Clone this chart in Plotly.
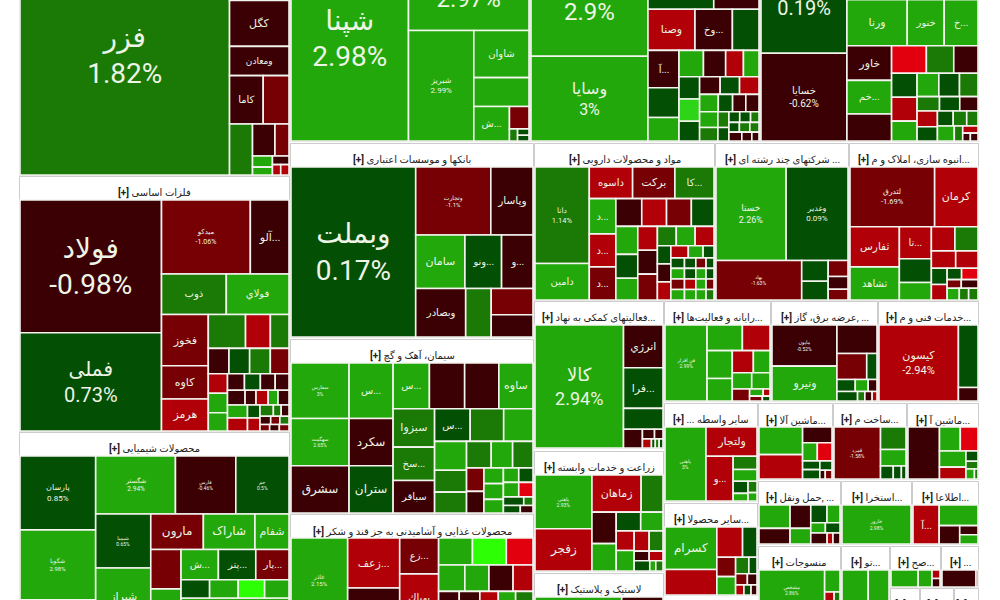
import json
import plotly.graph_objects as go

def nest(s):
    """Nesting of the cells of a sector: 1 takes the next cell; levels alternate row / column.
    Closing brackets at the end of the string may be left out."""
    return json.loads(s + "]" * (s.count("[") - s.count("]")))

# --- values: cell names, relative areas, % change ---
mines_title = "[+] استخراج کانه های فلزی"
mines_names = ["فزر","","كگل","ومعادن","كاما","","","","","","","","",""]
mines_areas = [46113,3534,2508,1600,1500,1150,1078,660,412,205,145,132,79,79]
mines_pcts  = [1.82,-0.7,-0.8,-0.7,-0.9,-1.5,1.5,-0.8,-1.4,2.2,2.2,-0.5,-2.5,-2.5]
mines_tree  = nest("[1,[1,1,1,[1,1],[1,[[1,1],[[1,1],[1,[1,1")

metals_title = "[+] فلزات اساسی"
metals_names = ["فولاد","فملی","میدکو","آلو...","ذوب","فولاي","فخوز","کاوه","هرمز"] + [""] * 32
metals_areas = [17733,13131,6205,2700,2480,2400,2265,1463,1416,1190,793,595,496,496,496,448,354,354,330,264,248,231,215,245,153,169,138,153,245,245,153,153,142,83,83,83,71,71,59,59,59]
metals_pcts  = [-0.98,0.73,-1.06,-0.7,1.6,2.3,-1.5,-1.6,-2.4,1.5,-2.5,1.4,-0.7,0.5,1.5,-1.5,-2.3,2.3,2.2,-0.6,0.5,-0.7,-0.8,-0.7,-0.9,-2.1,2.4,-0.7,2.2,-2.2,0.6,-2.2,1.4,1.4,-0.7,-0.8,-1.8,1.5,-1.6,-0.8,-1.8]
metals_tree  = nest("[[1,1],[[1,1],[1,1],[[1,1,1],[[1,1,1],[1,1,1,1],[[1,1,1],[[1,1,1,1],[1,1,1,1,1],[[1,1],[1,1],[[1,1,1],[1,1,1],[1,1,1")

chem_title = "[+] محصولات شیمیایی"
chem_names = ["پارسان","شگویا","","شگستر","فارس","جم","شیمیا","شیراز","مارون","شاراک","شفام","","","ش...","پتر...","پار...","","","","",""]
chem_areas = [5183,4900,1775,4290,3245,2860,2756,2912,1734,1700,1122,1102,1015,1044,1044,928,486,486,450,414,2700]
chem_pcts  = [0.85,2.98,2.3,2.94,-0.46,0.5,0.65,2.5,-1.6,2.4,2.3,-1.5,2.4,2.3,0.6,-1.4,0.5,2.3,4.5,2.3,2.3]
chem_tree  = nest("[[1,1,1],[[1,1,1],[[1,1],[[1,1,1],[[1,1],[[1,1,1],[1,1,1,1],1")

oil_title = "[+] فرآورده های نفتی"
oil_names = ["شپنا","شبندر","شبریز","شاوان","","ش...","","","",""]
oil_areas = [22000,10400,6588,2376,1458,1122,399,90,66,60]
oil_pcts  = [2.98,2.97,2.99,2.5,2.4,2.3,-1.7,1.5,0.5,0.5]
oil_tree  = nest("[1,[1,[1,[1,1,[1,[1,[1,[1,1")

banks_title = "[+] بانکها و موسسات اعتباری"
banks_names = ["وبملت","وتجارت","وپاسار","سامان","ونو...","و...","وبصادر","","",""]
banks_areas = [19700,4745,2665,2444,1820,1560,2256,1152,1025,861]
banks_pcts  = [0.17,-1.1,-0.8,2.4,0.5,-0.7,-0.9,1.5,-1.6,-0.6]
banks_tree  = nest("[1,[[1,1],[1,1,1],[1,1,[1,1")

cement_title = "[+] سیمان، آهک و گچ"
cement_names = ["سفارس","سهگمت","سشرق","س...","سکرد","ستران","س...","","","ساوه","سبزوا","سخ...","سباقر","س..."] + [""] * 21
cement_areas = [2835,2415,2415,2150,1832,1832,1462,1419,1376,1376,1400,1221,1184,1020,960,840,812,616,588,575,500,475,360,330,270,270,234,196,182,196,182,154,70,112,84]
cement_pcts  = [3,2.65,-0.8,2.4,-0.7,0.5,2.3,-0.6,-0.7,2.2,1.5,1.4,-0.8,0.4,1.5,2.2,2.3,1.4,1.5,1.4,2.3,1.5,-1.6,-0.7,2.3,2.2,2.3,2.3,0.5,2.3,-3,0.5,1.5,0.5,-0.7]
cement_tree  = nest("[[1,1,1],[1,1,1],[[1,1,1,1],[[1,1,1],[[1,1,1],[[1,1,1],[[1,1,1],[[1,1],[1,1,1],[[1,1],[1,1],[1,1],[1,1")

food_title = "[+] محصولات غذایی و آشامیدنی به جز قند و شکر"
food_names = ["غاذر","زعف...","","زع...","بهپاك","","","","","","","","","","","",""]
food_areas = [4300,2350,1598,1260,1692,825,825,650,625,575,575,475,570,570,510,480,480]
food_pcts  = [2.15,-2.4,-0.7,-1.6,-2.4,2.3,4.5,-3.2,2.3,2.3,-0.8,-2.2,-0.7,-0.7,-2.2,2.4,1.5]
food_tree  = nest("[1,[1,1],[1,1],[[1,1,1],[1,1,1,1],[1,1,1,1,1")

auto_title = "[+] خودرو و ساخت قطعات"
auto_names = ["خپارس","وسایا","","","وصنا","وخ...","","آ..."] + [""] * 29
auto_areas = [11050,7780,3780,2600,1520,1210,860,910,728,572,506,460,368,322,360,360,320,285,270,270,255,195,180,180,225,195,135,117,90,90,70,80,80,70,90,70,50]
auto_pcts  = [2.9,3,0.5,-0.7,-2.4,-0.8,0.5,-0.8,0.5,2.3,2.3,-0.7,-2.3,2.2,0.5,3.5,0.5,-0.7,0.5,-2.4,2.3,0.5,-0.8,-0.7,2.3,1.5,1.5,0.5,0.5,0.5,1.5,0.5,1.5,1.5,-0.7,-0.7,-0.8]
auto_tree  = nest("[[1,1],[[1,1],[1,1,1],[[1,1,1],[[1,1,1,1],[[1,1,1],[[1,1,1],[1,1,1,1],[[1,1],[1,1],[[1,1,1],[1,1,1],[1,1,1")

car_parts_title = "[+] خودرو"
car_parts_names = ["خودرو","خسایا","","ورنا","خنور","خ...","خاور","خم..."] + [""] * 23
car_parts_areas = [8340,6234,6900,2300,1410,1290,1280,1240,1000,792,624,552,504,504,420,420,399,357,266,240,216,266,240,196,168,140,210,105,90,50,50]
car_parts_pcts  = [0.19,-0.62,2.3,2.4,2.3,2.2,-0.8,2.3,-0.7,-3.3,1.5,-0.7,0.5,-2.3,2.3,2.3,0.5,1.5,1.5,0.5,-0.7,-2.3,0.5,0.5,1.5,1.5,2.3,1.5,-2.2,-0.7,-0.7]
car_parts_tree  = nest("[[1,1],[1,[1,1,1],[[1,1,1],[[1,1,1],[[1,1,1],[[1,1,1],[1,1,1],[[1,1],[[1,1,1],[1,1,[1,[1,1")

pharma_title = "[+] مواد و محصولات دارویی"
pharma_names = ["دانا","دامین","داسوه","برکت","کا...","د...","د...","د..."] + [""] * 35
pharma_areas = [4380,1660,1148,1120,1036,782,736,736,600,575,575,525,513,437,399,391,391,425,306,306,306,204,204,204,176,150,110,120,100,90,70,120,100,90,70,120,100,90,70,120,100,90,70]
pharma_pcts  = [1.14,2.3,-2.3,-1.6,1.5,2.3,-2.4,-1.6,-0.7,-2.4,-1.6,0.5,2.3,0.5,2.3,-2.2,-0.7,-1.5,1.5,2.4,-2.3,0.5,-0.7,-2.2,-2.2,2.3,0.5,0.5,0.5,-1.7,0.5,2.2,0.5,2.2,0.5,-1.6,-2.2,2.3,-1.6,2.3,2.3,2.2,1.5]
pharma_tree  = nest("[[1,1],[[1,1,1],[[1,1,1],[[1,1,1,1],[[1,1,1],[1,1,1],[[1,1,1],[[1,1,1],[[1,1,1],[1,1,1,1],[1,1,1,1],[1,1,1,1],[1,1,1,1")

multi_title = "[+] شرکتهای چند رشته ای ..."
multi_names = ["خستا","وغدیر","بهاد","","","","",""]
multi_areas = [6188,5460,3200,520,468,300,240,200]
multi_pcts  = [2.26,0.09,-1.63,0.5,0.5,-1.6,-0.7,-1.6]
multi_tree  = nest("[[[1,1],[1,[1,1],[1,1,1")

realty_title = "[+] انبوه سازی، املاک و م..."
realty_names = ["لتدرق","کرمان","ثفارس","ثشاهد","تا..."] + [""] * 15
realty_areas = [4592,2352,1800,1485,930,690,510,516,506,384,352,234,221,150,170,110,130,130,100,100]
realty_pcts  = [-1.69,-2.3,-2.4,2.3,-2.2,0.5,2.3,-2.3,1.5,-2.3,-2.2,0.5,-2.3,0.5,-3.2,-1.6,-0.8,2.3,1.5,1.5]
realty_tree  = nest("[[[1,1],[[1,1],[1,1,1],[[1,1],[1,1],[[1,1],[[1,1],[1,1],[1,1,1")

support_title = "[+] فعالیتهای کمکی به نهاد..."
support_names = ["کالا","انرژي","فرا...","","","","","","","",""]
support_areas = [9300,1443,1369,703,304,100,70,70,30,30,30]
support_pcts  = [2.94,-0.8,0.5,0.5,-0.7,-0.7,-0.6,-2.3,0.5,1.5,0.5]
support_tree  = nest("[1,[1,1,1,[1,[[1,1],[1,1,1,1")

farm_title = "[+] زراعت و خدمات وابسته"
farm_names = ["پاهنی","زفجر","زماهان"] + [""] * 14
farm_areas = [2490,1955,1485,660,620,540,374,340,285,300,247,228,117,108,130,50,60]
farm_pcts  = [2.93,-2.2,-2.4,1.5,-0.7,2.2,0.5,2.3,-2.3,2.3,-2.2,1.5,-0.7,-2.5,0.5,2.2,1.5]
farm_tree  = nest("[[1,1],[[1,1],[[1,1],[[1,1],[[1,1],[[1,1],[1,1],[1,1,1")

rubber_title = "[+] لاستیک و پلاستیک"
rubber_names = ["",""]
rubber_areas = [3612,1720]
rubber_pcts  = [2.3,-0.7]
rubber_tree  = nest("[1,1")

software_title = "[+] رایانه و فعالیت‌ها..."
software_names = ["فن افزار"] + [""] * 13
software_areas = [2600,736,575,572,462,380,300,255,240,170,80,40,50,30]
software_pcts  = [2.99,2.3,-2.5,2.3,2.2,-2.2,2.2,2.3,2.2,-1.8,2.2,-2.2,-1.5,0.5]
software_tree  = nest("[1,[[1,1],[[1,1],[[1,1],[1,1],[1,[[1,1],[1,1")

broker_title = "[+] ... سایر واسطه"
broker_names = ["پاهنی","ولتجار","و...","","","","","",""]
broker_areas = [2683,1316,1075,280,250,160,100,90,66]
broker_pcts  = [3,-2.3,-2.2,1.5,2.2,0.5,2.2,1.5,2.2]
broker_tree  = nest("[1,[1,[1,[1,1,[[1,1],[1,1")

products_title = "[+] سایر محصولا..."
products_names = ["کسرام"] + [""] * 12
products_areas = [1840,1104,650,364,304,288,182,112,110,90,70,60,50]
products_pcts  = [2.3,-2.4,-2.3,0.5,-1.6,2.2,1.5,0.5,-1.5,-0.7,-2.2,0.5,-0.7]
products_tree  = nest("[[1,1],[[1,1],[[1,1],[[1,1],[1,1],[1,1,1")

power_title = "[+] عرضه برق، گاز, ..."
power_names = ["ماپون","ونیرو"] + [""] * 10
power_areas = [2301,1947,984,667,230,187,132,90,170,60,60,40]
power_pcts  = [-0.52,2.3,-0.7,-1.6,0.5,0.5,2.3,-0.7,0.5,1.5,-0.7,-2.3]
power_tree  = nest("[[1,1],[1,[1,1],[[[1,1,1],[1,1,1,1")

tech_title = "[+] خدمات فنی و م..."
tech_names = ["کیسون","",""]
tech_areas = [5624,1140,247]
tech_pcts  = [-2.94,0.5,-0.7]
tech_tree  = nest("[1,[1,1")

machine_title = "[+] ماشین آلا..."
machine_names = [""] * 10
machine_areas = [1014,897,390,224,224,128,136,96,40,50]
machine_pcts  = [2.3,-2.3,-0.7,2.2,-3.2,0.5,0.5,0.5,-0.7,-1.8]
machine_tree  = nest("[[1,1],[1,[1,1],[[1,1],[1,[1,1")

build_title = "[+] ساخت م..."
build_names = ["قمرد","","","","",""]
build_areas = [2091,494,364,143,91,52]
build_pcts  = [-1.58,1.5,2.3,0.5,0.5,0.5]
build_tree  = nest("[1,[1,1,[1,1,1")

electric_title = "[+] ماشین آ..."
electric_names = [""] * 9
electric_areas = [1377,420,357,360,264,104,78,72,30]
electric_pcts  = [-0.7,2.3,-3.2,2.2,-2.3,0.5,1.5,2.2,1.5]
electric_tree  = nest("[1,[[1,1],[[1,1],[1,1,[1,1")

transport_title = "[+] حمل ونقل, ..."
transport_names = [""] * 11
transport_areas = [567,378,378,252,225,180,117,117,140,50,60]
transport_pcts  = [2.3,-0.7,-0.7,2.3,0.5,2.2,2.2,0.5,-0.7,-2.2,-0.7]
transport_tree  = nest("[[1,1],[1,1],[[1,1],[1,1],[1,1,1")

quarry_title = "[+] استخرا..."
quarry_names = ["خارور"]
quarry_areas = [2508]
quarry_pcts  = [2.98]
quarry_tree  = nest("[1")

info_title = "[+] اطلاعا..."
info_names = ["آ...","","","",""]
info_areas = [874,684,324,144,144]
info_pcts  = [-2.3,2.3,-0.7,-0.7,2.3]
info_tree  = nest("[1,[1,[1,[1,1")

textile_title = "[+] منسوجات"
textile_names = ["مشخص","","",""]
textile_areas = [2480,320,160,100]
textile_pcts  = [2.86,2.3,-2.2,1.5]
textile_tree  = nest("[1,[1,[1,1")

misc_a_title = "[+] تو..."
misc_a_names = ["",""]
misc_a_areas = [960,760]
misc_a_pcts  = [2.3,2.3]
misc_a_tree  = nest("[1,1")

misc_b_title = "[+] صح..."
misc_b_names = ["","","",""]
misc_b_areas = [410,210,60,60]
misc_b_pcts  = [2.3,2.2,-2.3,-0.7]
misc_b_tree  = nest("[1,1,[1,1")

misc_c_title = "[+] ..."
misc_c_names = ["",""]
misc_c_areas = [520,30]
misc_c_pcts  = [-0.7,-1.5]
misc_c_tree  = nest("[1,1")

tail_title = "[+] ..."
tail_names = [""]
tail_areas = [100]
tail_pcts  = [2.3]
tail_tree  = nest("[1")

# --- styles / layout (page pixels; the photographed window shows y 0..600 of a taller figure) ---
sectors = [
    (mines_title, mines_names, mines_areas, mines_pcts, mines_tree, (20, -87, 289, 175)),
    (metals_title, metals_names, metals_areas, metals_pcts, metals_tree, (20, 177, 289, 431)),
    (chem_title, chem_names, chem_areas, chem_pcts, chem_tree, (20, 433, 289, 625)),
    (oil_title, oil_names, oil_areas, oil_pcts, oil_tree, (291, -87, 529, 141)),
    (banks_title, banks_names, banks_areas, banks_pcts, banks_tree, (291, 144, 533, 337)),
    (cement_title, cement_names, cement_areas, cement_pcts, cement_tree, (291, 340, 533, 513)),
    (food_title, food_names, food_areas, food_pcts, food_tree, (291, 515, 533, 622)),
    (auto_title, auto_names, auto_areas, auto_pcts, auto_tree, (531, -87, 759, 141)),
    (car_parts_title, car_parts_names, car_parts_areas, car_parts_pcts, car_parts_tree, (761, -87, 978, 141)),
    (pharma_title, pharma_names, pharma_areas, pharma_pcts, pharma_tree, (535, 144, 714, 300)),
    (multi_title, multi_names, multi_areas, multi_pcts, multi_tree, (716, 144, 848, 300)),
    (realty_title, realty_names, realty_areas, realty_pcts, realty_tree, (850, 144, 978, 300)),
    (support_title, support_names, support_areas, support_pcts, support_tree, (535, 302, 663, 448)),
    (farm_title, farm_names, farm_areas, farm_pcts, farm_tree, (535, 452, 663, 571)),
    (rubber_title, rubber_names, rubber_areas, rubber_pcts, rubber_tree, (535, 574, 663, 640)),
    (software_title, software_names, software_areas, software_pcts, software_tree, (665, 302, 770, 401)),
    (broker_title, broker_names, broker_areas, broker_pcts, broker_tree, (665, 404, 757, 501)),
    (products_title, products_names, products_areas, products_pcts, products_tree, (665, 504, 757, 595)),
    (power_title, power_names, power_areas, power_pcts, power_tree, (772, 302, 877, 401)),
    (tech_title, tech_names, tech_areas, tech_pcts, tech_tree, (879, 302, 978, 401)),
    (machine_title, machine_names, machine_areas, machine_pcts, machine_tree, (759, 404, 832, 479)),
    (build_title, build_names, build_areas, build_pcts, build_tree, (834, 404, 906, 479)),
    (electric_title, electric_names, electric_areas, electric_pcts, electric_tree, (908, 404, 978, 479)),
    (transport_title, transport_names, transport_areas, transport_pcts, transport_tree, (759, 482, 840, 544)),
    (quarry_title, quarry_names, quarry_areas, quarry_pcts, quarry_tree, (842, 482, 911, 544)),
    (info_title, info_names, info_areas, info_pcts, info_tree, (913, 482, 978, 544)),
    (textile_title, textile_names, textile_areas, textile_pcts, textile_tree, (759, 547, 840, 610)),
    (misc_a_title, misc_a_names, misc_a_areas, misc_a_pcts, misc_a_tree, (842, 547, 889, 610)),
    (misc_b_title, misc_b_names, misc_b_areas, misc_b_pcts, misc_b_tree, (891, 547, 940, 587)),
    (misc_c_title, misc_c_names, misc_c_areas, misc_c_pcts, misc_c_tree, (942, 547, 978, 587)),
    (tail_title, tail_names, tail_areas, tail_pcts, tail_tree, (891, 589, 919, 640)),
    (tail_title, tail_names, tail_areas, tail_pcts, tail_tree, (921, 589, 953, 640)),
    (tail_title, tail_names, tail_areas, tail_pcts, tail_tree, (955, 589, 978, 640)),
]
FONT = "Roboto, 'DejaVu Sans', sans-serif"
HEADER_H = 23
PAGE_TOP = 100     # figure pixels hidden above the window
FIG_H = 800

pct_label_sizes = {
    "فزر":28,"فولاد":28,"شپنا":28,"وبملت":28,"شبندر":24,"خپارس":24,"خودرو":20,"فملی":20,"کالا":18,
    "وسایا":16,"خسایا":10,"کیسون":11,"دانا":7.5,"خستا":9,"وغدیر":8,"لتدرق":7.5,"پارسان":8,"میدکو":7,
    "شگستر":6.5,"شگویا":6,"فارس":5,"جم":5,"شیمیا":5,"شبریز":8,"وتجارت":6,"سفارس":5,"سهگمت":5,"غاذر":6,
    "بهاد":5,"فن افزار":5,"پاهنی":5,"ماپون":5,"قمرد":5,"خارور":5,"مشخص":5,
}
name_label_sizes = {
    "كگل":11,"ومعادن":9,"كاما":10,"آلو...":11,"ذوب":10,"فولاي":10,"فخوز":11,"کاوه":11,"هرمز":11,
    "مارون":12,"شاراک":12,"شفام":11,"شیراز":11,"وپاسار":10.5,"سامان":11,"وبصادر":10,
    "سکرد":12,"سشرق":12,"ستران":12,"ساوه":11,"سبزوا":11,"سخ...":10,"سباقر":10,"زعف...":11,"بهپاك":10,
    "وصنا":11,"ورنا":11,"خنور":10,"خ...":10,"خاور":11,"خم...":10,"داسوه":10,"برکت":11,"کرمان":11,
    "ثفارس":10.5,"ثشاهد":10,"انرژي":11,"فرا...":11,"زماهان":11,"زفجر":12,"ولتجار":11,"کسرام":12,"ونیرو":11,
    "شاوان":10,
}

def band_colour(p):
    if p > 4: return "#2dff05"
    if p > 3.2: return "#2dd417"
    if p >= 2: return "#22a80a"
    if p >= 1: return "#1a7a05"
    if p >= 0: return "#034f03"
    if p > -1: return "#3b0003"
    if p > -2: return "#770005"
    if p > -3: return "#b10008"
    return "#e2000f"

def flatten(tree, names, areas, pcts):
    """Turn a nesting of 1s into treemap rows, taking the cells in order."""
    rows = [dict(id="r", parent="", label=" ", value=0, text=" ", size=10, colour="rgba(0,0,0,0)", w=0)]
    cursor = [0]
    counter = [0]
    def walk(node, parent):
        for child in node:
            counter[0] += 1
            nid = f"n{counter[0]}"
            if child == 1:
                i = cursor[0]
                cursor[0] += 1
                n, p = names[i], pcts[i]
                if n in pct_label_sizes:
                    txt, sz = f"{n}<br>{p:g}%", pct_label_sizes[n]
                else:
                    txt, sz = n or " ", name_label_sizes.get(n, 10)
                rows.append(dict(id=nid, parent=parent, label=n or " ", value=areas[i], text=txt,
                                 size=sz, colour=band_colour(p), w=1.6))
            else:
                rows.append(dict(id=nid, parent=parent, label=" ", value=0, text=" ", size=10,
                                 colour="rgba(0,0,0,0)", w=0))
                walk(child, nid)
    walk(tree, "r")
    assert cursor[0] == len(names) == len(areas) == len(pcts), (names[:1], cursor[0], len(names), len(areas), len(pcts))
    return rows

fig = go.Figure()
for title, names, areas, pcts, tree, (x0, y0, x1, y1) in sectors:
    rows = flatten(tree, names, areas, pcts)
    fig.add_trace(go.Treemap(
        ids=[r["id"] for r in rows],
        parents=[r["parent"] for r in rows],
        labels=[r["label"] for r in rows],
        values=[r["value"] for r in rows],
        branchvalues="remainder",
        sort=False,
        text=[r["text"] for r in rows],
        textinfo="text",
        textposition="middle center",
        textfont=dict(family=FONT, size=[r["size"] for r in rows], color="#eef5e6"),
        marker=dict(
            colors=[r["colour"] for r in rows],
            line=dict(color="#f4f4f0", width=[r["w"] for r in rows]),
            pad=dict(t=0, l=0, r=0, b=0),
        ),
        tiling=dict(packing="slice-dice", pad=0),
        pathbar=dict(visible=False),
        hoverinfo="skip",
        domain=dict(x=[x0 / 1000, x1 / 1000],
                    y=[1 - (y1 + PAGE_TOP) / FIG_H, 1 - (y0 + HEADER_H + PAGE_TOP) / FIG_H]),
    ))
    fig.add_shape(type="rect", xref="paper", yref="paper", layer="below",
                  x0=(x0 - 0.5) / 1000, x1=(x1 + 0.5) / 1000,
                  y0=1 - (y1 + 0.5 + PAGE_TOP) / FIG_H, y1=1 - (y0 - 0.5 + PAGE_TOP) / FIG_H,
                  line=dict(color="#cccccc", width=1), fillcolor="#ffffff")
    fig.add_annotation(text=title.replace("[+]", "<b>[+]</b>"), x=(x0 + x1) / 2000,
                       y=1 - (y0 + 16 + PAGE_TOP) / FIG_H,
                       xref="paper", yref="paper", showarrow=False, xanchor="center", yanchor="middle",
                       font=dict(family=FONT, size=10, color="#222222"))

fig.update_layout(width=1000, height=FIG_H, margin=dict(l=0, r=0, t=0, b=0),
                  paper_bgcolor="#ffffff", font=dict(family=FONT), showlegend=False)
fig.write_html("out.html", post_script=
    f"document.body.style.margin='-{PAGE_TOP}px 0 0 0';document.documentElement.style.overflow='hidden';")
